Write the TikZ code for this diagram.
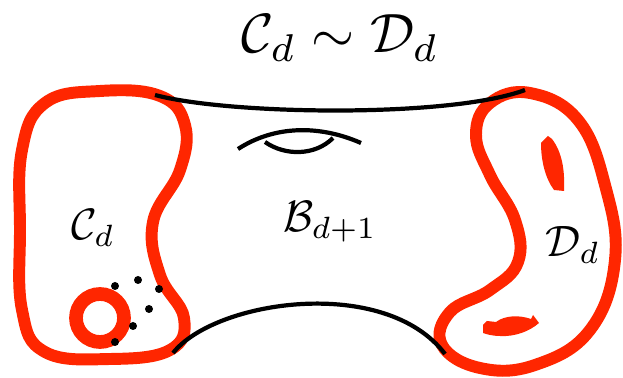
\documentclass[tikz,border=0pt]{standalone}
\usepackage{amsmath}
\usepackage{amssymb}
\usepackage{tikz}
\usetikzlibrary{positioning}
\definecolor{bdyred}{RGB}{255,38,0}

\begin{document}
\begin{tikzpicture}[
    x=0.02cm, y=-0.02cm,
    boundary/.style={draw=bdyred, line width=6.8pt},
    ring/.style={draw=bdyred, line width=7.8pt},
    patch/.style={fill=bdyred, draw=none},
    seam/.style={draw=black, line width=2.4pt},
    dot/.style={fill=black, draw=none},
    title/.style={scale=3.15, inner sep=0pt},
    region/.style={scale=2.5, inner sep=0pt}
]
    \useasboundingbox (0,0) rectangle (623,378);

    % left boundary component
    \draw[boundary] plot[smooth cycle, tension=0.7] coordinates {
        (20,230) (22,150) (45,103) (100,91) (160,96) (185,125) (180,170)
        (153,222) (160,275) (184,318) (170,350) (110,359) (45,352) (22,310)};
    \draw[ring] (100,318) circle [radius=24];
    \foreach \p in {(115,286), (138,280), (159,289), (149,309), (133,326), (115,342)}
        \fill[dot] \p circle [radius=4];

    % right boundary component
    \draw[boundary] plot[smooth cycle, tension=0.7] coordinates {
        (530,93) (490,103) (476,135) (490,175) (515,220) (518,262) (490,290)
        (450,312) (442,345) (480,368) (535,365) (590,330) (615,260) (605,185) (578,120)};
    \fill[patch] (541,143) -- (548,136) -- (552,139) .. controls (562,152) and (565,170) .. (564,191)
        -- (554,190) .. controls (545,178) and (541,160) .. (541,143) -- cycle;
    \fill[patch] (483,325) -- (487,321) -- (496,322) .. controls (505,315) and (520,315) .. (531,319)
        -- (533,315) -- (539,323) .. controls (530,331) and (515,337) .. (500,336)
        .. controls (492,336) and (486,334) .. (483,333) -- cycle;

    % bulk
    \draw[seam] (155,95) .. controls (230,115) and (450,118) .. (525,90);
    \draw[seam] (173,353) .. controls (215,300) and (385,275) .. (445,354);
    \draw[seam] (238,149) .. controls (275,125) and (320,125) .. (361,143);
    \draw[seam] (265,142) .. controls (285,156) and (315,156) .. (333,138);

    % labels
    \node[title] (equiv) at (340,38) {$\mathcal{C}_d \sim \mathcal{D}_d$};
    \node[region] (cd) at (93,228) {$\mathcal{C}_d$};
    \node[region] (bulk) at (330,222) {$\mathcal{B}_{d+1}$};
    \node[region] (dd) at (573,245) {$\mathcal{D}_d$};
\end{tikzpicture}
\end{document}
